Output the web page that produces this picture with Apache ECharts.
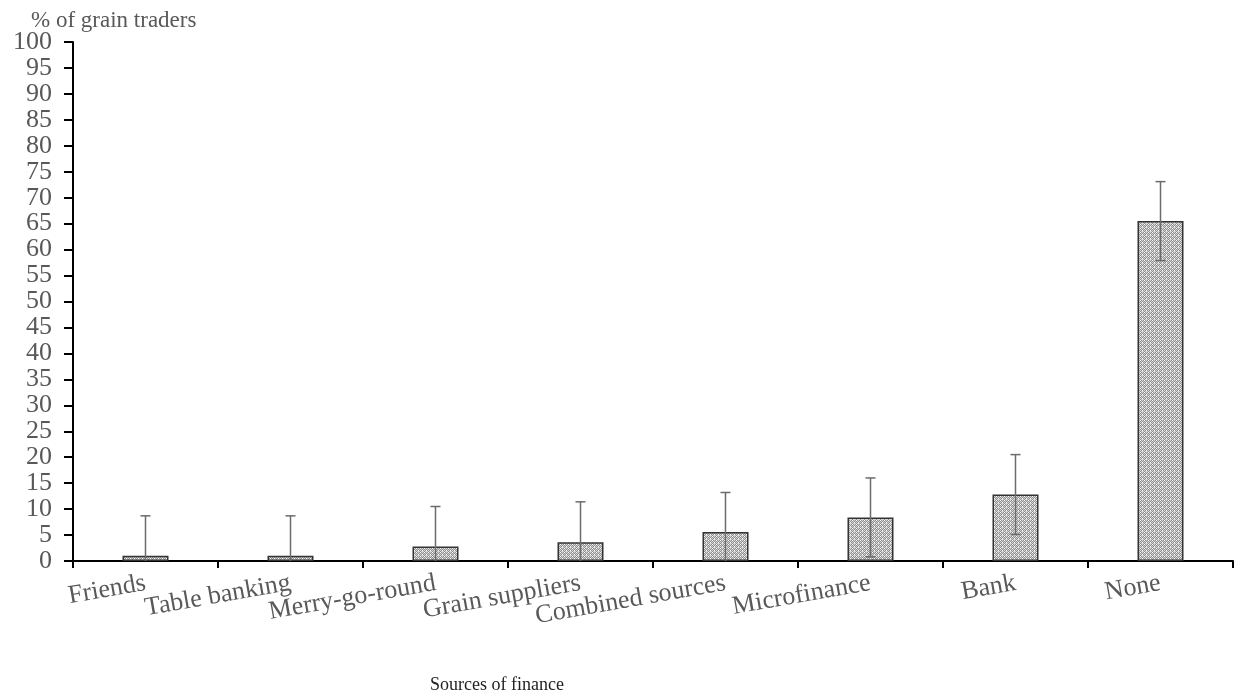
<!DOCTYPE html>
<html>
<head>
<meta charset="utf-8">
<script src="https://cdn.jsdelivr.net/npm/echarts@6/dist/echarts.min.js"></script>
<style>
  html, body { margin: 0; padding: 0; background: #fff; }
  #chart { width: 1238px; height: 694px; }
</style>
</head>
<body>
<div id="chart"></div>
<script>
const categories = ['Friends', 'Table banking', 'Merry-go-round', 'Grain suppliers', 'Combined sources', 'Microfinance', 'Bank', 'None'];
const shares = [1.0, 1.0, 2.8, 3.6, 5.6, 8.4, 12.8, 65.5];
const errHigh = [8.7, 8.7, 10.5, 11.4, 13.2, 16.0, 20.5, 73.1];
const errLow = [0, 0, 0, 0, 0, 0.8, 5.1, 57.9];

// small crosshatch tile for the bar fill
function hatch() {
  const c = document.createElement('canvas');
  c.width = 4; c.height = 4;
  const ctx = c.getContext('2d');
  ctx.fillStyle = '#d4d4d4';
  ctx.fillRect(0, 0, 4, 4);
  ctx.fillStyle = '#8e8e8e';
  [[1,0],[3,0],[0,1],[2,1],[1,2],[3,2],[0,3]].forEach(function (p) {
    ctx.fillRect(p[0], p[1], 1, 1);
  });
  ctx.fillStyle = '#ffffff';
  [[0,0],[2,2]].forEach(function (p) { ctx.fillRect(p[0], p[1], 1, 1); });
  return c;
}

const chart = echarts.init(document.getElementById('chart'));
const font = '"Liberation Serif", "DejaVu Serif", serif';

const option = {
  animation: false,
  title: [
    { text: '% of grain traders', left: 26, top: 4,
      textStyle: { fontFamily: font, fontSize: 23, fontWeight: 'normal', color: '#595959' } },
    { text: 'Sources of finance', left: 425, top: 671,
      textStyle: { fontFamily: font, fontSize: 18, fontWeight: 'normal', color: '#222' } }
  ],
  grid: { left: 73, right: 5, top: 42, bottom: 133, containLabel: false },
  xAxis: {
    type: 'category',
    data: categories,
    axisLine: { lineStyle: { color: '#000', width: 2 } },
    axisTick: { show: true, length: 7, lineStyle: { color: '#000', width: 2 } },
    axisLabel: { rotate: 10, margin: 22, interval: 0, fontFamily: font, fontSize: 26, color: '#595959' }
  },
  yAxis: {
    type: 'value',
    min: 0, max: 100, interval: 5,
    splitLine: { show: false },
    axisLine: { show: true, lineStyle: { color: '#000', width: 2 } },
    axisTick: { show: true, length: 9, lineStyle: { color: '#000', width: 2 } },
    axisLabel: { margin: 21, fontFamily: font, fontSize: 26, color: '#595959',
      showMinLabel: true, showMaxLabel: true, hideOverlap: false }
  },
  series: [
    {
      type: 'bar',
      data: shares,
      barWidth: 46,
      itemStyle: {
        color: { image: hatch(), repeat: 'repeat' },
        borderColor: '#333',
        borderWidth: 1.5
      }
    },
    {
      type: 'custom',
      data: categories.map(function (c, i) { return [i, errLow[i], errHigh[i]]; }),
      renderItem: function (params, api) {
        const x = api.value(0);
        const lo = api.coord([x, api.value(1)]);
        const hi = api.coord([x, api.value(2)]);
        const cap = 5;
        const style = { stroke: '#6b6b6b', lineWidth: 1.5 };
        const kids = [
          { type: 'line', shape: { x1: hi[0], y1: hi[1], x2: lo[0], y2: lo[1] }, style: style },
          { type: 'line', shape: { x1: hi[0] - cap, y1: hi[1], x2: hi[0] + cap, y2: hi[1] }, style: style }
        ];
        if (api.value(1) > 0) {
          kids.push({ type: 'line', shape: { x1: lo[0] - cap, y1: lo[1], x2: lo[0] + cap, y2: lo[1] }, style: style });
        }
        return { type: 'group', children: kids };
      },
      z: 5
    }
  ]
};

chart.setOption(option);
</script>
</body>
</html>
